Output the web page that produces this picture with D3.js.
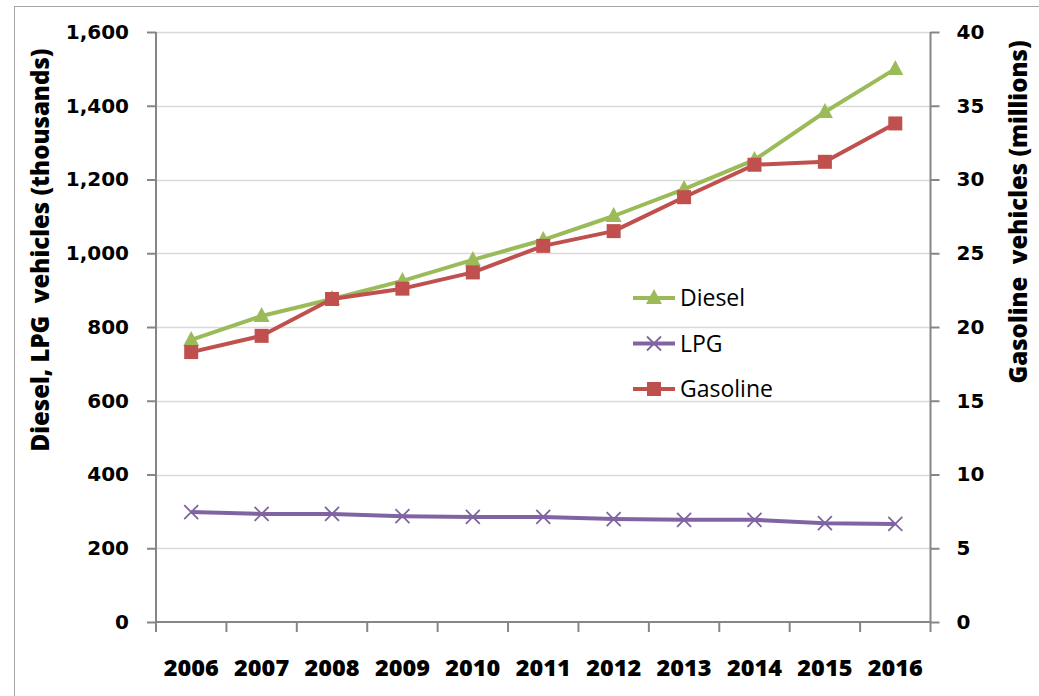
<!DOCTYPE html>
<html>
<head>
<meta charset="utf-8">
<script src="https://cdn.jsdelivr.net/npm/d3@7"></script>
<style>
  body { margin: 0; background: #fff; }
  .tick text { fill: #000; }
</style>
</head>
<body>
<script>
const years = ["2006", "2007", "2008", "2009", "2010", "2011", "2012", "2013", "2014", "2015", "2016"];
// thousands, left axis
const diesel = [765, 830, 876, 925, 982, 1036, 1101, 1174, 1253, 1383, 1500];
const lpg = [298, 293, 293, 287, 285, 285, 279, 277, 277, 268, 266];
// millions, right axis
const gasoline = [18.3, 19.4, 21.9, 22.6, 23.7, 25.5, 26.5, 28.8, 31.0, 31.2, 33.8];
const leftTicks = [0, 200, 400, 600, 800, 1000, 1200, 1400, 1600];
const rightTicks = [0, 5, 10, 15, 20, 25, 30, 35, 40];

const width = 1039, height = 696;
const plot = {left: 156, right: 930.5, top: 32, bottom: 622};

const svg = d3.select("body").append("svg")
  .attr("width", width)
  .attr("height", height);

// outer chart border
svg.append("rect")
  .attr("x", 14.5).attr("y", 6.5)
  .attr("width", width).attr("height", height)
  .attr("fill", "none")
  .attr("stroke", "#a6a6a6");

const x = d3.scaleBand().domain(years).range([plot.left, plot.right]);
const yL = d3.scaleLinear().domain([0, 1600]).range([plot.bottom, plot.top]);
const yR = d3.scaleLinear().domain([0, 40]).range([plot.bottom, plot.top]);
const cx = d => x(d) + x.bandwidth() / 2;

// gridlines
svg.append("g")
  .selectAll("line")
  .data(leftTicks.slice(1))
  .enter().append("line")
  .attr("class", "grid")
  .attr("x1", plot.left).attr("x2", plot.right)
  .attr("y1", d => Math.round(yL(d)) + 0.5)
  .attr("y2", d => Math.round(yL(d)) + 0.5)
  .attr("stroke", "#d9d9d9")
  .attr("stroke-width", 1.3);

const tickFont = "'DejaVu Sans', sans-serif";

const leftAxis = svg.append("g")
  .attr("transform", `translate(${plot.left},0)`)
  .call(d3.axisLeft(yL).tickValues(leftTicks).tickFormat(d3.format(",")).tickSize(9).tickPadding(18));
leftAxis.selectAll("text")
  .style("font-family", tickFont).style("font-weight", "bold").style("font-size", "20px");

const rightAxis = svg.append("g")
  .attr("transform", `translate(${plot.right},0)`)
  .call(d3.axisRight(yR).tickValues(rightTicks).tickSize(9).tickPadding(17));
rightAxis.selectAll("text")
  .style("font-family", tickFont).style("font-weight", "bold").style("font-size", "20px");

const bottomAxis = svg.append("g")
  .attr("transform", `translate(0,${plot.bottom})`)
  .call(d3.axisBottom(x).tickSize(0).tickPadding(37));
bottomAxis.selectAll("text")
  .style("font-family", "'Open Sans', sans-serif").style("font-weight", "800").style("font-size", "23.5px");

// category boundary ticks
const catTicks = svg.append("g");
catTicks.selectAll("line")
  .data(years.map(d => x(d)).concat([plot.right]))
  .enter().append("line")
  .attr("x1", d => d).attr("x2", d => d)
  .attr("y1", plot.bottom).attr("y2", plot.bottom + 10);

svg.selectAll(".tick line").attr("stroke", "#868686").attr("stroke-width", 2);
catTicks.selectAll("line").attr("stroke", "#868686").attr("stroke-width", 2);
svg.selectAll(".domain").attr("stroke", "#868686").attr("stroke-width", 2);
leftAxis.select(".domain").attr("d", `M0,${plot.top}V${plot.bottom}`);
rightAxis.select(".domain").attr("d", `M0,${plot.top}V${plot.bottom}`);
bottomAxis.select(".domain").attr("d", `M${plot.left},0H${plot.right}`);

// axis titles
svg.append("text")
  .attr("transform", `translate(49,250) rotate(-90)`)
  .attr("text-anchor", "middle")
  .style("font-family", "'Open Sans', sans-serif")
  .style("font-weight", "800")
  .style("font-size", "24px")
  .style("white-space", "pre")
  .text("Diesel, LPG  vehicles (thousands)");

svg.append("text")
  .attr("transform", `translate(1027,212) rotate(-90)`)
  .attr("text-anchor", "middle")
  .style("font-family", "'Open Sans', sans-serif")
  .style("font-weight", "800")
  .style("font-size", "24px")
  .style("white-space", "pre")
  .text("Gasoline  vehicles (millions)");

const series = [
  {name: "Diesel", values: diesel, y: yL, color: "#9bbb59", marker: "triangle"},
  {name: "LPG", values: lpg, y: yL, color: "#8064a2", marker: "x"},
  {name: "Gasoline", values: gasoline, y: yR, color: "#c0504d", marker: "square"}
];

function drawMarker(g, type, color) {
  if (type === "triangle") {
    g.append("path").attr("d", "M0,-9L8,6L-8,6Z").attr("fill", color);
  } else if (type === "square") {
    g.append("rect").attr("x", -7).attr("y", -7).attr("width", 14).attr("height", 14).attr("fill", color);
  } else {
    g.append("path").attr("d", "M-7,-7L7,7M-7,7L7,-7")
      .attr("stroke", color).attr("stroke-width", 1.8).attr("fill", "none");
  }
}

const line = d3.line();

[series[1], series[0], series[2]].forEach(s => {
  const pts = years.map((yr, i) => [cx(yr), s.y(s.values[i])]);
  svg.append("path")
    .attr("d", line(pts))
    .attr("fill", "none")
    .attr("stroke", s.color)
    .attr("stroke-width", 4)
    .attr("stroke-linejoin", "round");
  pts.forEach(p => {
    const g = svg.append("g").attr("transform", `translate(${p[0]},${p[1]})`);
    drawMarker(g, s.marker, s.color);
  });
});

// legend
const legend = svg.append("g").attr("id", "legend");
series.forEach((s, i) => {
  const ly = 298 + i * 45.5;
  legend.append("line")
    .attr("x1", 633).attr("x2", 675)
    .attr("y1", ly).attr("y2", ly)
    .attr("stroke", s.color).attr("stroke-width", 4);
  const g = legend.append("g").attr("transform", `translate(654,${ly})`);
  drawMarker(g, s.marker, s.color);
  legend.append("text")
    .attr("x", 680).attr("y", ly)
    .attr("dy", "0.35em")
    .style("font-family", "'Open Sans', sans-serif")
    .style("font-size", "23px")
    .text(s.name);
});
</script>
</body>
</html>
